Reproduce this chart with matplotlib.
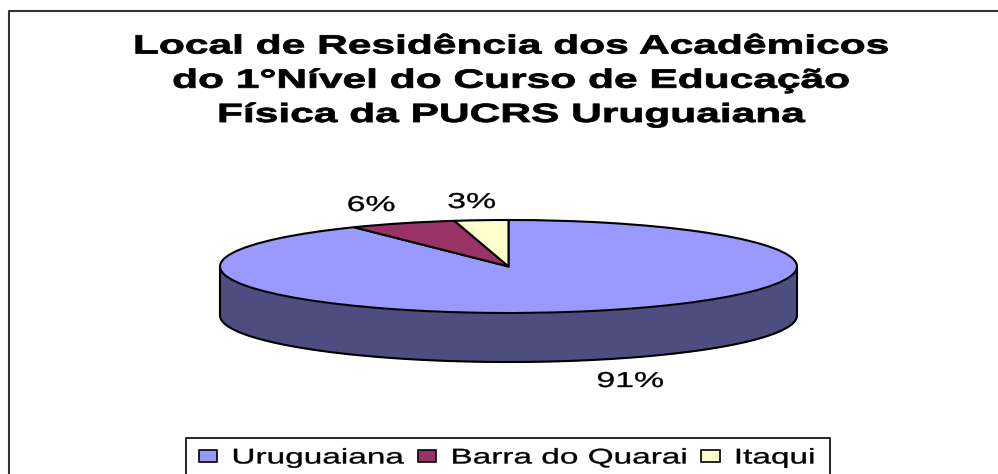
import matplotlib
matplotlib.use('Agg')
import matplotlib.pyplot as plt
from matplotlib.patches import Patch, Rectangle
from matplotlib.patheffects import AbstractPathEffect
from matplotlib.transforms import Affine2D
import numpy as np

W, H = 998, 474

title = 'Local de Residência dos Acadêmicos\ndo 1°Nível do Curso de Educação\nFísica da PUCRS Uruguaiana'
labels = ['Uruguaiana', 'Barra do Quarai', 'Itaqui']
values = [91, 6, 3]
colors = ['#9999FF', '#993366', '#FFFFCC']
side_color = '#4D4D80'

plt.rcParams['font.family'] = ['Liberation Sans', 'DejaVu Sans']


class StretchX(AbstractPathEffect):
    """The reference picture was widened, so glyphs get wider but not taller"""
    def __init__(self, sx, cx, bolder=0):
        super().__init__()
        self.stretch = Affine2D().translate(-cx, 0).scale(sx, 1).translate(cx, 0)
        self.bolder = bolder

    def draw_path(self, renderer, gc, tpath, affine, rgbFace=None):
        gc0 = renderer.new_gc()
        gc0.copy_properties(gc)
        if self.bolder:
            gc0.set_linewidth(self.bolder)
            gc0.set_foreground('black')
        renderer.draw_path(gc0, tpath, affine + self.stretch, rgbFace)
        gc0.restore()


fig = plt.figure(figsize=(W / 100, H / 100), dpi=100, facecolor='white')

# outer chart frame, only the top and left edges are in the picture
fig.add_artist(plt.Line2D([8.5 / W, 8.5 / W, 1], [0, 1 - 10.5 / H, 1 - 10.5 / H],
                          color='#333333', linewidth=1.5))

fig.text(511 / W, 1 - 122 / H, title, ha='center', va='baseline', multialignment='center',
         fontsize=19, fontweight='bold', linespacing=1.54, color='black',
         path_effects=[StretchX(1.61, 511, bolder=0.6)])

# pie axes: ellipse 577 x 93 px, wall below it
rx, ry, depth = 288.5, 46.5, 49
left, top = 220, 220
ax = fig.add_axes([left / W, 1 - (top + 2 * ry + depth) / H, 2 * rx / W, (2 * ry + depth) / H])
wall = depth / ry

t = np.linspace(np.pi, 2 * np.pi, 200)
ax.fill_between(np.cos(t), np.sin(t), np.sin(t) - wall, color=side_color, linewidth=0)
ax.plot(np.cos(t), np.sin(t) - wall, color='black', linewidth=1.5)
ax.plot([-1, -1], [0, -wall], color='black', linewidth=1.5)
ax.plot([1, 1], [0, -wall], color='black', linewidth=1.5)

ax.pie(values, colors=colors, startangle=90, counterclock=False, radius=1,
       wedgeprops={'edgecolor': 'black', 'linewidth': 1.5})
ax.set_aspect('auto')
ax.set_xlim(-1, 1)
ax.set_ylim(-1 - wall, 1)
ax.axis('off')
for a in ax.get_children():
    a.set_clip_on(False)

# percent labels
pct_pos = [(630, 387), (371, 211), (471.5, 208)]
for v, (x, y) in zip(values, pct_pos):
    fig.text(x / W, 1 - y / H, f'{v}%', ha='center', va='baseline', fontsize=15.5, color='black',
             path_effects=[StretchX(1.57, x, bolder=0.25)])

# legend box runs off the bottom of the picture
fig.add_artist(Rectangle((186 / W, -2 / H), 644 / W, 38 / H, transform=fig.transFigure,
                         facecolor='white', edgecolor='black', linewidth=1.2))
handles = [Patch(facecolor=c, edgecolor='black', linewidth=1.2) for c in colors]
leg = fig.legend(handles, labels, loc='center', bbox_to_anchor=(507 / W, 1 - 458 / H), ncol=3,
                 frameon=False, fontsize=15.3, handlelength=0.56, handleheight=0.56,
                 handletextpad=0.42, columnspacing=0.42, borderpad=0)
for item in leg.get_texts():
    item.set_path_effects([StretchX(1.57, 507, bolder=0.25)])
for item in leg.legend_handles:
    item.set_path_effects([StretchX(1.57, 507)])

fig.savefig('out.png', dpi=100)
